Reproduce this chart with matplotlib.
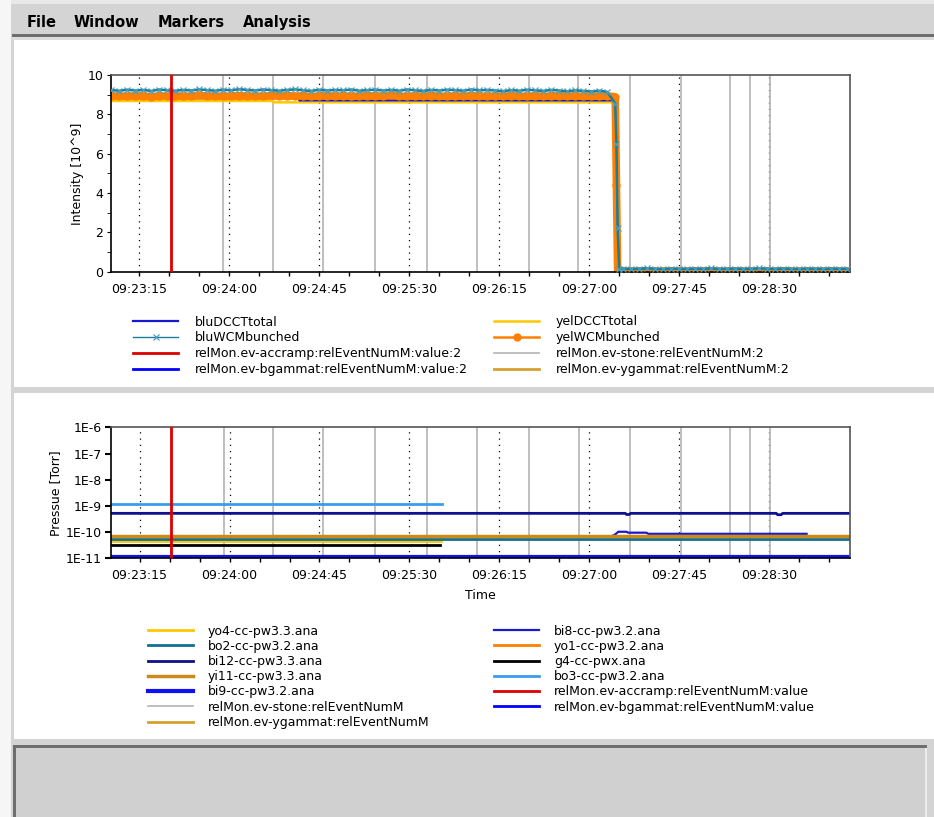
"""
    Beam intensity / vacuum pressure logger view (two stacked time plots)
"""
import matplotlib
matplotlib.use("Agg")
import matplotlib.pyplot as plt
from matplotlib.legend import Legend
from matplotlib.patches import Rectangle
from matplotlib.ticker import MultipleLocator, LogLocator, NullFormatter
import numpy as np

W, H = 934, 817
X_ORIGIN = 9 * 3600 + 23 * 60   # seconds of 09:23:00, used as x = 0


def sec(clock):
    """ clock string -> seconds after 09:23:00 """
    h, m, s = clock.split(":")
    return int(h) * 3600 + int(m) * 60 + float(s) - X_ORIGIN


# shared time axis and event markers
time_ticks = ["09:23:15", "09:24:00", "09:24:45", "09:25:30",
              "09:26:15", "09:27:00", "09:27:45", "09:28:30"]
time_start, time_end = "09:23:00.7", "09:29:10.4"
stone_events = ["09:23:57", "09:24:21.7", "09:24:47", "09:25:12.9", "09:25:38.7",
                "09:26:04", "09:26:30", "09:26:54.6", "09:27:20.4", "09:27:45.7",
                "09:28:10.5", "09:28:20.4", "09:28:30.4"]
accramp_events = ["09:23:30.7"]
bgammat_events = []
ygammat_events = []

# top plot: intensity [10^9]  (x in seconds after 09:23:00)
blu_dcct_t = [1, 95, 95, 252.6, 253.5, 253.9, 370]
blu_dcct = [8.82, 8.82, 8.71, 8.71, 8.6, 0.05, 0.05]
yel_dcct_t = [1, 82, 82, 251.2, 252.9, 253.2, 253.6, 370]
yel_dcct = [8.68, 8.68, 8.61, 8.61, 8.58, 4.3, 0.05, 0.05]

wcm_t0, wcm_dt = 1, 4          # WCM sample start / period before the dump
blu_wcm_before = [
    9.23, 9.20, 9.25, 9.21, 9.24, 9.19, 9.26, 9.22,
    9.20, 9.24, 9.21, 9.27, 9.23, 9.20, 9.25, 9.22,
    9.28, 9.24, 9.21, 9.26, 9.23, 9.20, 9.24, 9.27,
    9.22, 9.19, 9.25, 9.21, 9.24, 9.22, 9.26, 9.20,
    9.23, 9.25, 9.21, 9.24, 9.20, 9.26, 9.22, 9.19,
    9.24, 9.21, 9.25, 9.23, 9.20, 9.26, 9.22, 9.24,
    9.21, 9.18, 9.23, 9.20, 9.25, 9.22, 9.19, 9.24,
    9.21, 9.17, 9.22, 9.19, 9.16, 9.20, 9.14, 8.55]
yel_wcm_before = [
    8.92, 8.94, 8.91, 8.95, 8.93, 8.90, 8.94, 8.92,
    8.95, 8.91, 8.93, 8.96, 8.92, 8.94, 8.91, 8.93,
    8.95, 8.92, 8.94, 8.91, 8.96, 8.93, 8.95, 8.92,
    8.94, 8.91, 8.93, 8.95, 8.92, 8.94, 8.91, 8.93,
    8.95, 8.92, 8.94, 8.96, 8.93, 8.91, 8.94, 8.92,
    8.95, 8.93, 8.91, 8.94, 8.92, 8.95, 8.93, 8.91,
    8.94, 8.92, 8.95, 8.93, 8.91, 8.94, 8.92, 8.93,
    8.95, 8.92, 8.94, 8.91, 8.93, 8.92, 8.94, 8.89]
dump_t = [253.6, 254.2, 255.0]
blu_wcm_dump = [6.5, 2.2, 0.15]
yel_wcm_dump = [4.4, 0.03, 0.03]
tail_t0 = 257                  # WCM samples after the dump, same period
blu_wcm_after = [0.16, 0.14, 0.15, 0.17, 0.15, 0.13, 0.16, 0.15, 0.14, 0.16,
                 0.15, 0.17, 0.14, 0.15, 0.16, 0.14, 0.15, 0.17, 0.15, 0.14,
                 0.16, 0.15, 0.13, 0.16, 0.15, 0.14, 0.16, 0.15, 0.15]
yel_wcm_after = [0.03, 0.02, 0.04, 0.03, 0.02, 0.03, 0.04, 0.02, 0.03, 0.03,
                 0.02, 0.04, 0.03, 0.02, 0.03, 0.04, 0.03, 0.02, 0.03, 0.03,
                 0.04, 0.02, 0.03, 0.03, 0.02, 0.04, 0.03, 0.02, 0.03]

# bottom plot: pressure [Torr]
yo4_t, yo4 = [1, 166], [4.6e-11, 4.6e-11]
bi8_t = [1, 251, 252.5, 254.5, 258.5, 259.5, 268.5, 269.5, 348.7]
bi8 = [7.0e-11, 7.0e-11, 7.7e-11, 1.03e-10, 1.03e-10, 9.5e-11, 9.5e-11, 8.6e-11, 8.6e-11]
bo2_t, bo2 = [1, 370], [5.4e-11, 5.4e-11]
yo1_t, yo1 = [1, 370], [7.2e-11, 7.2e-11]
bi12_t = [1, 258, 258.6, 260, 260.6, 333.5, 334.2, 336, 336.7, 370]
bi12 = [5.2e-10, 5.2e-10, 4.7e-10, 4.7e-10, 5.2e-10, 5.2e-10, 4.6e-10, 4.6e-10, 5.2e-10, 5.2e-10]
g4_t, g4 = [1, 165.3], [3.3e-11, 3.3e-11]
yi11_t, yi11 = [1, 370], [6.8e-11, 6.8e-11]
bo3_t, bo3 = [1, 166.5], [1.2e-9, 1.2e-9]
bi9_t, bi9 = [1, 370], [1.1e-11, 1.1e-11]
pressure_ticks = [1e-11, 1e-10, 1e-9, 1e-8, 1e-7, 1e-6]
pressure_labels = ["1E-11", "1E-10", "1E-9", "1E-8", "1E-7", "1E-6"]

FS = 9
fig = plt.figure(figsize=(W / 100, H / 100), dpi=100, facecolor="#d4d4d4")


def rect(x0, y0, x1, y1, color):
    fig.add_artist(Rectangle((x0 / W, 1 - y1 / H), (x1 - x0) / W, (y1 - y0) / H,
                             transform=fig.transFigure, facecolor=color,
                             edgecolor="none", zorder=-10))


def axes_px(left, top, right, bottom):
    return fig.add_axes([left / W, 1 - bottom / H, (right - left) / W, (bottom - top) / H])


# window chrome
rect(0, 0, 934, 4, "#e8e8e8")
rect(0, 0, 11, 817, "#f6f6f6")
rect(12, 34, 934, 36.5, "#6e6e6e")
rect(12, 36.5, 934, 40, "#dcdcdc")
rect(14, 40, 934, 386.7, "white")
rect(14, 393.3, 934, 739, "white")
rect(13, 745, 927, 817, "#d0d0d0")
rect(13, 745, 927, 747.5, "#6e6e6e")
rect(13, 745, 15.5, 817, "#6e6e6e")
rect(925, 747.5, 927, 817, "#ececec")
for label, x in [("File", 26.5), ("Window", 73.5), ("Markers", 158), ("Analysis", 243)]:
    fig.text(x / W, 1 - 26.7 / H, label, fontsize=10.5, fontweight="bold", va="baseline")


def style_time_axis(ax):
    ax.set_xlim(sec(time_start), sec(time_end))
    ax.set_xticks([sec(t) for t in time_ticks])
    ax.set_xticklabels(time_ticks)
    ax.xaxis.set_minor_locator(MultipleLocator(15))
    ax.tick_params(axis="x", which="both", direction="out", length=3, width=1,
                   labelsize=FS, pad=5)
    ax.tick_params(axis="y", which="both", direction="out", labelsize=FS, pad=2.5)
    ax.grid(axis="x", which="major", color="black", linestyle=(0, (1, 4)), linewidth=0.9)
    ax.set_axisbelow(True)
    for side, spine in ax.spines.items():
        spine.set_color("black" if side in ("left", "bottom") else "#555555")
        spine.set_linewidth(1.2)


def draw_events(ax):
    handles = {}
    for t in stone_events:
        handles["stone"] = ax.axvline(sec(t), color="#b4b4b4", lw=1.2, zorder=1)
    for t in accramp_events:
        handles["accramp"] = ax.axvline(sec(t), color="#dd0000", lw=2, zorder=4)
    handles["bgammat"], = ax.plot([sec(t) for t in bgammat_events],
                                  [1] * len(bgammat_events), color="#0000ff", lw=2)
    handles["ygammat"], = ax.plot([sec(t) for t in ygammat_events],
                                  [1] * len(ygammat_events), color="#d6a030", lw=2)
    return handles


def legend_column(ax, handles, labels, x, y, textpad, spacing):
    leg = Legend(ax, handles, labels, loc="upper left", bbox_to_anchor=(x / W, 1 - y / H),
                 bbox_transform=fig.transFigure, frameon=False, fontsize=FS,
                 handlelength=3.6, handletextpad=textpad, labelspacing=spacing,
                 borderpad=0, borderaxespad=0, numpoints=1)
    ax.add_artist(leg)


# ---------- top: intensity ----------
ax1 = axes_px(110.7, 75, 850, 271.7)
style_time_axis(ax1)
ev1 = draw_events(ax1)

blu_wcm_t = list(wcm_t0 + wcm_dt * np.arange(len(blu_wcm_before))) + dump_t + \
    list(tail_t0 + wcm_dt * np.arange(len(blu_wcm_after)))
yel_wcm_t = list(wcm_t0 + wcm_dt * np.arange(len(yel_wcm_before))) + dump_t + \
    list(tail_t0 + wcm_dt * np.arange(len(yel_wcm_after)))
blu_wcm = blu_wcm_before + blu_wcm_dump + blu_wcm_after
yel_wcm = yel_wcm_before + yel_wcm_dump + yel_wcm_after

h_ydcct, = ax1.plot(yel_dcct_t, yel_dcct, color="#ffc800", lw=1.8, zorder=2)
h_bdcct, = ax1.plot(blu_dcct_t, blu_dcct, color="#1818d0", lw=1.6, zorder=2.1)
# dense WCM samples render as a solid band: thick trace under the marker trace
ax1.plot(yel_wcm_t, yel_wcm, color="#ff8000", lw=5.5, solid_capstyle="round", zorder=2.4)
h_ywcm, = ax1.plot(yel_wcm_t, yel_wcm, color="#ff8000", lw=1.8, marker="o", ms=5,
                   mec="#ff8000", zorder=2.5)
ax1.plot(blu_wcm_t, blu_wcm, color="#1b7d9c", lw=1.8, zorder=2.9)
h_bwcm, = ax1.plot(blu_wcm_t, blu_wcm, color="#1b7d9c", lw=1, marker="x", ms=4.5,
                   mew=0.9, mec="#4a9fbc", zorder=3)
ax1.set_ylim(0, 10)
ax1.yaxis.set_major_locator(MultipleLocator(2))
ax1.yaxis.set_minor_locator(MultipleLocator(1))
ax1.tick_params(axis="y", which="both", length=3)
ax1.set_ylabel("Intensity [10^9]", fontsize=FS)
ax1.yaxis.set_label_coords(-0.036, 0.5)

legend_column(ax1, [h_bdcct, h_bwcm, ev1["accramp"], ev1["bgammat"]],
              ["bluDCCTtotal", "bluWCMbunched",
               "relMon.ev-accramp:relEventNumM:value:2",
               "relMon.ev-bgammat:relEventNumM:value:2"], 133, 315.5, 1.36, 0.23)
legend_column(ax1, [h_ydcct, h_ywcm, ev1["stone"], ev1["ygammat"]],
              ["yelDCCTtotal", "yelWCMbunched",
               "relMon.ev-stone:relEventNumM:2",
               "relMon.ev-ygammat:relEventNumM:2"], 494, 315.5, 1.36, 0.23)

# ---------- bottom: pressure ----------
ax2 = axes_px(111, 427.3, 850, 558.3)
style_time_axis(ax2)
ev2 = draw_events(ax2)
series = [
    ("yo4-cc-pw3.3.ana", yo4_t, yo4, "#ffc800", 2),
    ("bi8-cc-pw3.2.ana", bi8_t, bi8, "#1a1acc", 1.6),
    ("bo2-cc-pw3.2.ana", bo2_t, bo2, "#137090", 2),
    ("yo1-cc-pw3.2.ana", yo1_t, yo1, "#ff8000", 2),
    ("bi12-cc-pw3.3.ana", bi12_t, bi12, "#10108a", 2),
    ("g4-cc-pwx.ana", g4_t, g4, "#000000", 2),
    ("yi11-cc-pw3.3.ana", yi11_t, yi11, "#cc8a1a", 2.5),
    ("bo3-cc-pw3.2.ana", bo3_t, bo3, "#3a9cf0", 2),
    ("bi9-cc-pw3.2.ana", bi9_t, bi9, "#1010f0", 3),
]
h2 = {}
for name, t, v, color, lw in series:
    h2[name], = ax2.plot(t, v, color=color, lw=lw, zorder=2)
ax2.set_yscale("log")
ax2.set_ylim(1e-11, 1e-6)
ax2.set_yticks(pressure_ticks)
ax2.set_yticklabels(pressure_labels)
ax2.yaxis.set_minor_locator(LogLocator(base=10, subs=np.arange(2, 10)))
ax2.yaxis.set_minor_formatter(NullFormatter())
ax2.tick_params(axis="y", which="major", length=4, width=1.5)
ax2.tick_params(axis="y", which="minor", length=2.5, width=0.8)
ax2.set_ylabel("Pressue [Torr]", fontsize=FS)
ax2.yaxis.set_label_coords(-0.066, 0.5)
ax2.set_xlabel("Time", fontsize=FS, labelpad=5)

left_names = ["yo4-cc-pw3.3.ana", "bo2-cc-pw3.2.ana", "bi12-cc-pw3.3.ana",
              "yi11-cc-pw3.3.ana", "bi9-cc-pw3.2.ana"]
right_names = ["bi8-cc-pw3.2.ana", "yo1-cc-pw3.2.ana", "g4-cc-pwx.ana", "bo3-cc-pw3.2.ana"]
legend_column(ax2, [h2[n] for n in left_names] + [ev2["stone"], ev2["ygammat"]],
              left_names + ["relMon.ev-stone:relEventNumM",
                            "relMon.ev-ygammat:relEventNumM"], 148, 624.5, 1.2, 0.18)
legend_column(ax2, [h2[n] for n in right_names] + [ev2["accramp"], ev2["bgammat"]],
              right_names + ["relMon.ev-accramp:relEventNumM:value",
                             "relMon.ev-bgammat:relEventNumM:value"], 494, 624.5, 1.2, 0.18)

fig.savefig("out.png", dpi=100, facecolor=fig.get_facecolor())
